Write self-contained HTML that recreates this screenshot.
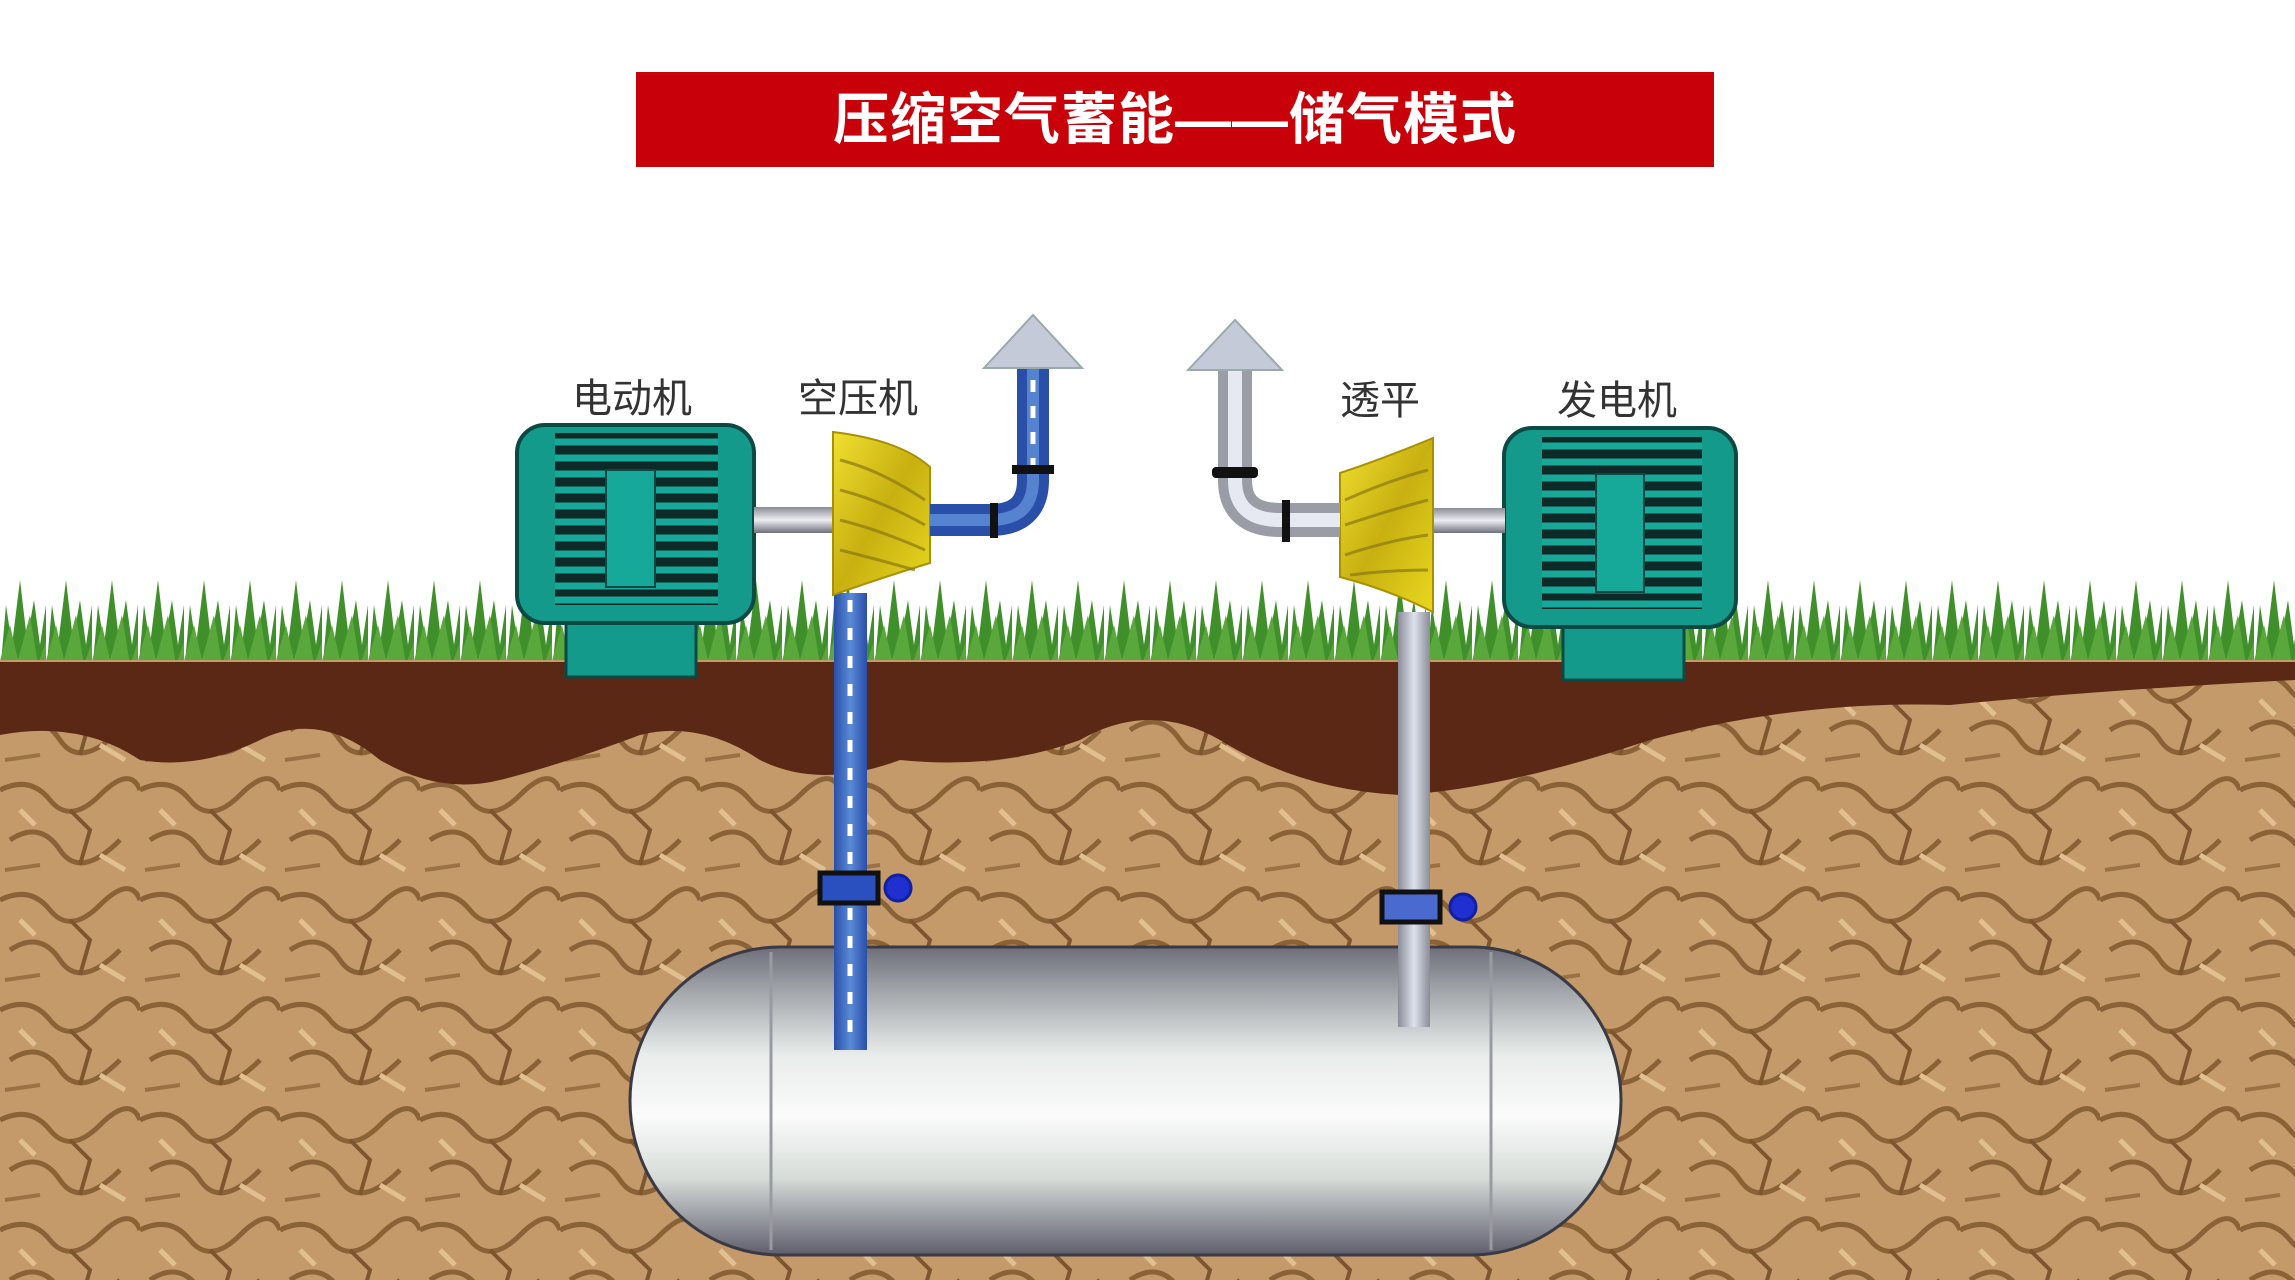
<!DOCTYPE html>
<html><head><meta charset="utf-8"><style>
html,body{margin:0;padding:0;background:#fff;}
svg{display:block;}
</style></head><body>
<svg width="2295" height="1280" viewBox="0 0 2295 1280" xmlns="http://www.w3.org/2000/svg">
<defs>
<pattern id="soil" width="140" height="110" patternUnits="userSpaceOnUse">
<rect width="140" height="110" fill="#c49a6a"/>
<path d="M0 20 Q30 5 50 30 T100 25 T140 20" stroke="#8a6238" stroke-width="5" fill="none"/>
<path d="M10 70 Q40 50 60 80 T120 70" stroke="#8a6238" stroke-width="5" fill="none"/>
<path d="M70 40 L90 60 L80 95" stroke="#7d5630" stroke-width="4" fill="none"/>
<path d="M20 40 L35 55" stroke="#e0bf90" stroke-width="5" fill="none"/>
<path d="M100 85 L125 100" stroke="#e0bf90" stroke-width="5" fill="none"/>
<path d="M5 100 L40 95" stroke="#9a7045" stroke-width="4" fill="none"/>
</pattern>
<pattern id="grass" width="46" height="100" patternUnits="userSpaceOnUse" x="0" y="575">
<path d="M0 100 L6 30 L12 70 L20 5 L27 65 L34 25 L40 70 L46 30 L46 100Z" fill="#3f8f2a"/>
<path d="M-4 100 L10 50 L18 85 L30 40 L38 90 L50 55 L50 100Z" fill="#5aa83c"/>
</pattern>
<linearGradient id="tank" x1="0" y1="0" x2="0" y2="1">
<stop offset="0" stop-color="#6e6e7a"/><stop offset="0.15" stop-color="#a4a8ac"/>
<stop offset="0.35" stop-color="#e8ecea"/><stop offset="0.55" stop-color="#fbfbfb"/>
<stop offset="0.75" stop-color="#d6dcd8"/><stop offset="0.92" stop-color="#858690"/><stop offset="1" stop-color="#5d5e6a"/>
</linearGradient>
<linearGradient id="bluep" x1="0" y1="0" x2="1" y2="0">
<stop offset="0" stop-color="#2a4fa8"/><stop offset="0.5" stop-color="#5a8ad8"/><stop offset="1" stop-color="#2a4fa8"/>
</linearGradient>
<linearGradient id="grayp" x1="0" y1="0" x2="1" y2="0">
<stop offset="0" stop-color="#8a8c96"/><stop offset="0.5" stop-color="#dde2ee"/><stop offset="1" stop-color="#8a8c96"/>
</linearGradient>
<linearGradient id="grayH" x1="0" y1="0" x2="0" y2="1">
<stop offset="0" stop-color="#8a8c96"/><stop offset="0.5" stop-color="#eceef2"/><stop offset="1" stop-color="#6f707a"/>
</linearGradient>
<linearGradient id="yel" x1="0" y1="0" x2="1" y2="1">
<stop offset="0" stop-color="#f0e030"/><stop offset="0.5" stop-color="#c8b010"/><stop offset="1" stop-color="#e8d820"/>
</linearGradient>
</defs>

<rect x="636" y="72" width="1078" height="95" fill="#c8000a"/>
<text x="1175" y="139" text-anchor="middle" font-family="'Liberation Sans','Noto Sans CJK SC',sans-serif" font-size="56" font-weight="bold" fill="#fff" letter-spacing="1">压缩空气蓄能——储气模式</text>

<rect x="0" y="575" width="2295" height="100" fill="url(#grass)"/>
<rect x="0" y="660" width="2295" height="620" fill="url(#soil)"/>
<path d="M0 662 L2295 662 L2295 680 Q2100 690 1950 705 Q1800 700 1650 740 Q1500 790 1400 795 Q1300 790 1220 740 Q1150 700 1080 740 Q1000 770 900 760 Q820 790 760 760 Q700 720 640 735 Q560 765 500 780 Q440 795 380 760 Q320 710 260 740 Q200 770 140 760 Q80 720 0 735Z" fill="#5a2814"/>

<rect x="630" y="947" width="991" height="308" rx="150" ry="154" fill="url(#tank)" stroke="#3a3a44" stroke-width="3"/>
<line x1="771" y1="952" x2="771" y2="1250" stroke="#9a9aa2" stroke-width="3"/>
<line x1="1491" y1="952" x2="1491" y2="1250" stroke="#9a9aa2" stroke-width="3"/>

<rect x="834" y="593" width="33" height="457" fill="url(#bluep)"/>
<line x1="850" y1="600" x2="850" y2="1045" stroke="#fff" stroke-width="5" stroke-dasharray="12 16"/>
<rect x="820" y="873" width="58" height="30" fill="#2a50c0" stroke="#111" stroke-width="5"/>
<circle cx="898" cy="888" r="13" fill="#2030d0" stroke="#1020a0" stroke-width="3"/>
<rect x="1398" y="612" width="32" height="415" fill="url(#grayp)"/>
<rect x="1382" y="892" width="58" height="30" fill="#4a6ad0" stroke="#111" stroke-width="5"/>
<circle cx="1463" cy="907" r="13" fill="#2030d0" stroke="#1020a0" stroke-width="3"/>

<g>
<rect x="566" y="600" width="130" height="77" fill="#139a8a" stroke="#0b4a44" stroke-width="3"/>
<rect x="517" y="425" width="237" height="198" rx="28" fill="#139a8a" stroke="#0b4a44" stroke-width="4"/>
<rect x="555" y="433" width="163" height="172" fill="#0d2a28"/>
<g stroke="#16a898" stroke-width="7">
<line x1="555" y1="442" x2="718" y2="442"/><line x1="555" y1="458" x2="718" y2="458"/><line x1="555" y1="474" x2="718" y2="474"/><line x1="555" y1="490" x2="718" y2="490"/><line x1="555" y1="506" x2="718" y2="506"/><line x1="555" y1="522" x2="718" y2="522"/><line x1="555" y1="538" x2="718" y2="538"/><line x1="555" y1="554" x2="718" y2="554"/><line x1="555" y1="570" x2="718" y2="570"/><line x1="555" y1="586" x2="718" y2="586"/><line x1="555" y1="600" x2="718" y2="600"/>
</g>
<rect x="606" y="470" width="49" height="117" fill="#16a898" stroke="#0b4a44" stroke-width="2"/>
</g>
<g>
<rect x="1563" y="605" width="121" height="75" fill="#139a8a" stroke="#0b4a44" stroke-width="3"/>
<rect x="1504" y="428" width="232" height="199" rx="28" fill="#139a8a" stroke="#0b4a44" stroke-width="4"/>
<rect x="1542" y="437" width="160" height="172" fill="#0d2a28"/>
<g stroke="#16a898" stroke-width="7">
<line x1="1542" y1="446" x2="1702" y2="446"/><line x1="1542" y1="462" x2="1702" y2="462"/><line x1="1542" y1="478" x2="1702" y2="478"/><line x1="1542" y1="494" x2="1702" y2="494"/><line x1="1542" y1="510" x2="1702" y2="510"/><line x1="1542" y1="526" x2="1702" y2="526"/><line x1="1542" y1="542" x2="1702" y2="542"/><line x1="1542" y1="558" x2="1702" y2="558"/><line x1="1542" y1="574" x2="1702" y2="574"/><line x1="1542" y1="590" x2="1702" y2="590"/><line x1="1542" y1="604" x2="1702" y2="604"/>
</g>
<rect x="1596" y="474" width="48" height="118" fill="#16a898" stroke="#0b4a44" stroke-width="2"/>
</g>

<rect x="754" y="507" width="82" height="26" fill="url(#grayH)"/>
<rect x="1433" y="508" width="72" height="25" fill="url(#grayH)"/>

<path d="M833 432 Q900 440 930 467 L930 563 Q890 575 833 595Z" fill="url(#yel)" stroke="#a89000" stroke-width="2"/>
<g stroke="#8a7a10" stroke-width="3" fill="none" opacity="0.7"><path d="M840 460 Q880 470 925 500"/><path d="M840 490 Q880 500 925 525"/><path d="M840 520 Q880 530 925 550"/><path d="M840 550 Q880 560 915 570"/></g>
<path d="M1433 438 Q1380 460 1340 473 L1340 577 Q1390 590 1433 612Z" fill="url(#yel)" stroke="#a89000" stroke-width="2"/>
<g stroke="#8a7a10" stroke-width="3" fill="none" opacity="0.7"><path d="M1345 500 Q1390 480 1428 470"/><path d="M1345 525 Q1390 510 1428 500"/><path d="M1345 555 Q1390 540 1428 535"/><path d="M1350 575 Q1390 570 1428 570"/></g>

<path d="M930 520 L990 520 Q1033 520 1033 480 L1033 368" stroke="#2a4fa8" stroke-width="32" fill="none"/>
<path d="M930 520 L990 520 Q1033 520 1033 480 L1033 368" stroke="#6a9ae0" stroke-width="12" fill="none" opacity="0.7"/>
<line x1="1033" y1="470" x2="1033" y2="372" stroke="#fff" stroke-width="5" stroke-dasharray="12 14"/>
<rect x="990" y="503" width="8" height="35" fill="#111"/>
<rect x="1012" y="465" width="42" height="9" fill="#111"/>
<path d="M984 368 L1033 315 L1082 368Z" fill="#c4cad8" stroke="#9aa" stroke-width="2"/>
<path d="M1340 520 L1280 520 Q1235 520 1235 480 L1235 368" stroke="#9a9ca6" stroke-width="34" fill="none"/>
<path d="M1340 520 L1280 520 Q1235 520 1235 480 L1235 368" stroke="#e6e9f2" stroke-width="14" fill="none"/>
<rect x="1282" y="500" width="8" height="42" fill="#111"/>
<rect x="1212" y="467" width="46" height="11" rx="4" fill="#111"/>
<path d="M1188 370 L1235 320 L1282 370Z" fill="#c4cad8" stroke="#9aa" stroke-width="2"/>

<g font-family="'Liberation Sans','Noto Sans CJK SC',sans-serif" font-size="40" fill="#333" text-anchor="middle">
<text x="632" y="412">电动机</text>
<text x="858" y="412">空压机</text>
<text x="1380" y="414">透平</text>
<text x="1617" y="414">发电机</text>
</g>
</svg>
</body></html>
